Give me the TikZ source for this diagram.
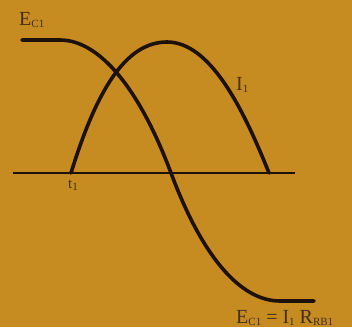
\documentclass[tikz,border=0pt]{standalone}
\usepackage{fontspec}
\setmainfont{Liberation Serif}
\definecolor{bg}{RGB}{198,140,34}
\definecolor{ink}{RGB}{30,18,8}
\definecolor{txt}{RGB}{70,45,18}
\newcommand{\lowsub}[1]{\raisebox{-0.25ex}{\fontsize{11}{12}\selectfont #1}}
\begin{document}
\begin{tikzpicture}[x=1pt,y=-1pt,
  curve/.style={draw=ink,line width=3.6pt,line cap=round},
  axisline/.style={draw=ink,line width=1.6pt},
  lbl/.style={text=txt,inner sep=0pt,font=\fontsize{20}{22}\selectfont}]
\fill[bg] (0,0) rectangle (352,327);
\useasboundingbox (0,0) rectangle (352,327);
% axis
\coordinate (axL) at (13,173);
\coordinate (axR) at (295,173);
\draw[axisline] (axL) -- (axR);
% E_C1 curve
\coordinate (e0) at (22,40);
\coordinate (e1) at (60,40);
\coordinate (em) at (171,173);
\coordinate (e2) at (280,301);
\coordinate (e3) at (314,301);
\draw[curve] (e0) -- (e1) .. controls (100,40) and (140,90) .. (em)
  .. controls (202,256) and (240,301) .. (e2) -- (e3);
% I1 curve
\coordinate (i0) at (71,173);
\coordinate (ip) at (167,42);
\coordinate (i1) at (269,173);
\draw[curve] (i0) .. controls (96,92) and (125,42) .. (ip)
  .. controls (210,42) and (243,108) .. (i1);
% labels
\node[lbl,anchor=south west] (lEC) at (19,28) {E\lowsub{C1}};
\node[lbl,anchor=south west] (lI) at (236,93) {I\lowsub{1}};
\node[lbl,anchor=north west,font=\fontsize{15}{16}\selectfont] (lt) at (68,180) {t\lowsub{1}};
\node[lbl,anchor=south west] (lbot) at (236,326) {E\lowsub{C1} = I\lowsub{1} R\lowsub{RB1}};
\end{tikzpicture}
\end{document}
